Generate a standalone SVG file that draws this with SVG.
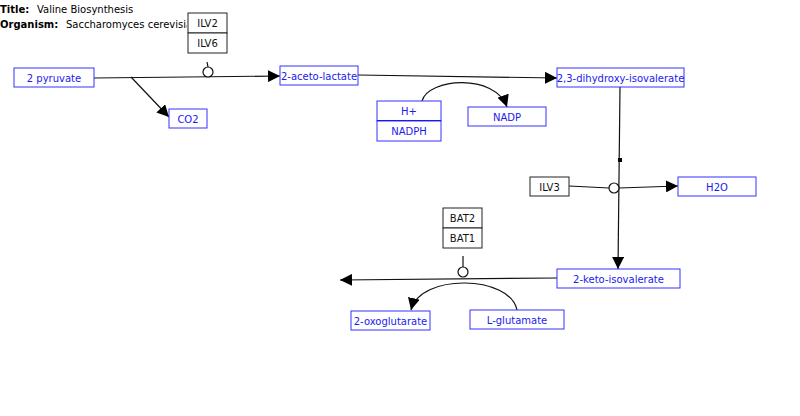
<svg xmlns="http://www.w3.org/2000/svg" width="800" height="416" viewBox="0 0 800 416">
<defs>
<style>
text{font-family:"DejaVu Sans",sans-serif;font-size:10px;}
.m rect{fill:#fff;stroke:#3333ff;stroke-width:1;}
.m text{fill:#1a1aee;text-anchor:middle;}
.g rect{fill:#fff;stroke:#222;stroke-width:1;}
.g text{fill:#111;text-anchor:middle;}
.ln{stroke:#111;stroke-width:1.2;fill:none;}
.c{fill:#fff;stroke:#111;stroke-width:1.2;}
</style>
<clipPath id="tc"><rect x="0" y="0" width="187" height="40"/></clipPath>
<marker id="b" viewBox="0 0 12 12" refX="12" refY="6" markerWidth="12" markerHeight="12" markerUnits="userSpaceOnUse" orient="auto"><path d="M0,0L12,6L0,12z" fill="#000"/></marker>
</defs>
<rect width="800" height="416" fill="#fff"/>
<g id="title" clip-path="url(#tc)">
<text x="0" y="13" font-weight="bold">Title:</text><text x="37" y="13">Valine Biosynthesis</text>
<text x="0" y="28" font-weight="bold">Organism:</text><text x="66" y="28">Saccharomyces cerevisiae</text>
</g>
<g id="connectors">
<path class="ln" d="M94,78 L280,76" marker-end="url(#b)"/>
<path class="ln" d="M131,77 L169,117" marker-end="url(#b)"/>
<path class="ln" d="M207,62 L208,67"/>
<path class="ln" d="M358,75 L557,78" marker-end="url(#b)"/>
<path class="ln" d="M422,101 C428,78 495,73 507,107" marker-end="url(#b)"/>
<path class="ln" d="M620,87 L618,269" marker-end="url(#b)"/>
<rect x="618" y="158" width="4" height="4" fill="#000"/>
<path class="ln" d="M569,186 L609,188"/>
<path class="ln" d="M619,188 L678,186" marker-end="url(#b)"/>
<path class="ln" d="M557,278 L340,280" marker-end="url(#b)"/>
<path class="ln" d="M463,256 L463,267"/>
<path class="ln" d="M517,310 C510,275 420,273 411,310" marker-end="url(#b)"/>
<circle class="c" cx="208" cy="72" r="5"/>
<circle class="c" cx="614" cy="188" r="5"/>
<circle class="c" cx="463" cy="272" r="5"/>
</g>
<g id="ILV2" class="g"><rect x="188" y="13" width="39" height="20"/><text x="207.5" y="27">ILV2</text></g>
<g id="ILV6" class="g"><rect x="188" y="33" width="39" height="20"/><text x="207.5" y="47">ILV6</text></g>
<g id="pyruvate" class="m"><rect x="14" y="68" width="80" height="19"/><text x="54" y="81.5">2 pyruvate</text></g>
<g id="acetolactate" class="m"><rect x="280" y="66" width="78" height="19"/><text x="319" y="79.5">2-aceto-lactate</text></g>
<g id="CO2" class="m"><rect x="169" y="109" width="38" height="19"/><text x="188" y="122.5">CO2</text></g>
<g id="dihydroxy" class="m"><rect x="557" y="68" width="127" height="19"/><text x="620.5" y="81.5">2,3-dihydroxy-isovalerate</text></g>
<g id="Hplus" class="m"><rect x="377" y="101" width="64" height="20"/><text x="409" y="115">H+</text><line x1="377" y1="121" x2="441" y2="121" stroke="#0000dd" stroke-width="2"/></g>
<g id="NADPH" class="m"><rect x="377" y="121" width="64" height="20"/><text x="409" y="135">NADPH</text></g>
<g id="NADP" class="m"><rect x="468" y="107" width="78" height="19"/><text x="507" y="120.5">NADP</text></g>
<g id="ILV3" class="g"><rect x="530" y="177" width="39" height="19"/><text x="549.5" y="190.5">ILV3</text></g>
<g id="H2O" class="m"><rect x="678" y="177" width="78" height="19"/><text x="717" y="190.5">H2O</text></g>
<g id="BAT2" class="g"><rect x="443" y="208" width="39" height="20"/><text x="462.5" y="222">BAT2</text></g>
<g id="BAT1" class="g"><rect x="443" y="228" width="39" height="20"/><text x="462.5" y="242">BAT1</text></g>
<g id="ketoisovalerate" class="m"><rect x="557" y="269" width="123" height="19"/><text x="618.5" y="282.5">2-keto-isovalerate</text></g>
<g id="oxoglutarate" class="m"><rect x="351" y="311" width="79" height="19"/><text x="390.5" y="324.5">2-oxoglutarate</text></g>
<g id="glutamate" class="m"><rect x="470" y="310" width="94" height="19"/><text x="517" y="323.5">L-glutamate</text></g>
</svg>
